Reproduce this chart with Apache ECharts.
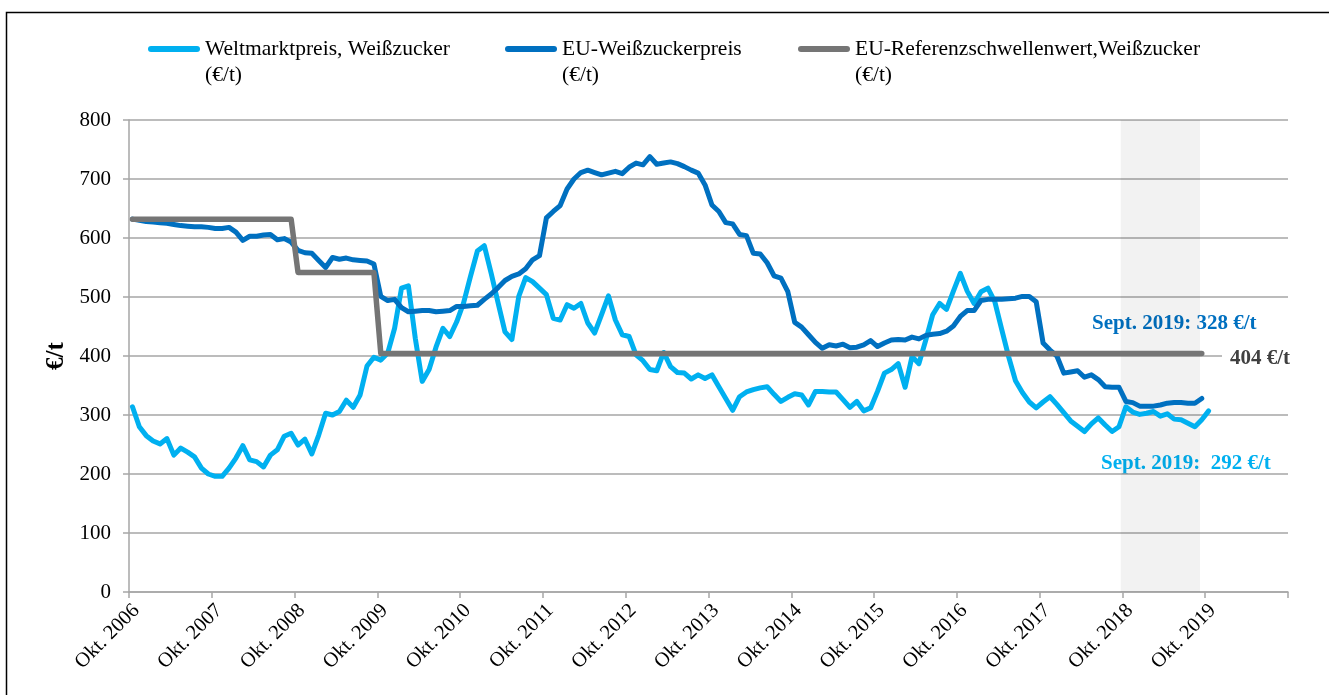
<!DOCTYPE html>
<html><head><meta charset="utf-8">
<script src="https://cdn.jsdelivr.net/npm/echarts@6/dist/echarts.min.js"></script>
<style>html,body{margin:0;padding:0;background:#fff;}#chart{width:1329px;height:695px;}</style>
</head><body><div id="chart"></div>
<script>
// X tick labels (one per October, every 12 months)
const xTickLabels = ['Okt. 2006','Okt. 2007','Okt. 2008','Okt. 2009','Okt. 2010','Okt. 2011','Okt. 2012',
  'Okt. 2013','Okt. 2014','Okt. 2015','Okt. 2016','Okt. 2017','Okt. 2018','Okt. 2019'];

const seriesNames = ['Weltmarktpreis, Weißzucker','EU-Weißzuckerpreis','EU-Referenzschwellenwert,Weißzucker'];

// Monthly values, starting Okt. 2006 (month index 0)
const worldPrice = [
  314,280,265,256,251,260,232,244,237,229,
  210,200,196,196,210,227,248,224,221,212,
  232,241,264,269,249,259,234,266,303,300,
  306,325,313,334,383,398,393,405,447,515,
  519,430,357,377,415,447,433,458,490,535,
  578,587,540,490,441,428,501,533,526,515,
  504,464,461,487,481,489,456,439,470,502,
  461,436,433,402,392,377,375,406,382,372,
  371,361,368,362,368,348,328,308,331,339,
  343,346,348,335,323,330,336,334,317,340,
  340,339,339,326,313,323,307,312,340,371,
  377,387,347,399,387,427,470,489,479,510,
  540,510,489,509,515,492,445,399,358,338,
  322,312,322,331,318,304,290,281,272,285,
  295,283,272,280,314,305,301,303,306,298,
  302,293,292,286,280,292,307
];
const euPrice = [
  632,630,628,627,626,625,623,621,620,619,
  619,618,616,616,618,610,596,603,603,605,
  606,597,599,593,579,575,574,562,550,567,
  564,566,563,562,561,556,501,494,496,482,
  475,476,477,477,475,476,477,484,484,485,
  486,496,505,516,528,535,539,548,563,570,
  634,645,655,683,700,711,715,711,707,710,
  713,709,720,727,724,738,725,727,729,726,
  721,715,710,690,656,645,626,624,606,604,
  574,573,558,536,532,509,457,449,436,423,
  413,419,417,420,414,415,419,426,416,422,
  427,428,427,432,429,435,437,438,442,451,
  467,477,477,494,496,496,496,497,498,501,
  501,492,422,410,400,371,373,375,364,368,
  360,348,347,347,323,321,315,315,315,317,
  320,321,321,320,320,328
];
// Reference threshold: breakpoints (month index) and values
const refMonths = [0, 23, 24, 35, 36, 155];
const refValues = [631.9, 631.9, 541.5, 541.5, 404.4, 404.4];

// Shaded period (Okt. 2018 – Sept. 2019), month positions
const shadeRange = [143.75, 155.25];

const annotations = ['Sept. 2019: 328 €/t', '404 €/t', 'Sept. 2019:  292 €/t'];

const colors = ['#00B0F0', '#0070C0', '#757575'];
const FONT = "'Liberation Serif','Times New Roman',serif";
const toPts = arr => arr.map((v, i) => [i + 0.5, v]);
const refPts = refMonths.map((m, k) => [m + 0.5, refValues[k]]);

const chart = echarts.init(document.getElementById('chart'), null, {renderer: 'canvas'});
const capsule = 'path://M3,0 L49,0 A3,3 0 0 1 49,6 L3,6 A3,3 0 0 1 3,0 Z';
const legendLeft = [148, 505, 798];

const lineSeries = (k, data, w) => ({
  name: seriesNames[k], type: 'line', data: data, showSymbol: false, symbol: 'none',
  color: colors[k], itemStyle: {color: colors[k]},
  lineStyle: {color: colors[k], width: w, cap: 'round', join: 'round'},
  animation: false, silent: true
});

const s0 = lineSeries(0, toPts(worldPrice), 5);
s0.markArea = {
  silent: true,
  itemStyle: {color: 'rgba(0,0,0,0.05)'},
  data: [[{xAxis: shadeRange[0], yAxis: 0}, {xAxis: shadeRange[1], yAxis: 800}]]
};

chart.setOption({
  backgroundColor: '#fff',
  animation: false,
  textStyle: {fontFamily: FONT},
  grid: {left: 129, right: 41, top: 120, bottom: 103, containLabel: false},
  legend: seriesNames.map((n, k) => ({
    data: [n], left: legendLeft[k], top: 10, padding: 0,
    icon: capsule, itemWidth: 52, itemHeight: 6, selectedMode: false,
    formatter: name => '\n' + name + '\n(€/t)',
    textStyle: {fontFamily: FONT, fontSize: 21.5, lineHeight: 26, color: '#000'}
  })),
  xAxis: {
    type: 'value', min: 0, max: 168, interval: 12,
    axisLine: {show: true, lineStyle: {color: '#a6a6a6', width: 1.5}},
    axisTick: {show: true, length: 6, lineStyle: {color: '#a6a6a6', width: 1.5}},
    splitLine: {show: false},
    axisLabel: {
      rotate: 45, margin: 8, fontFamily: FONT, fontSize: 20.5, color: '#000',
      verticalAlign: 'top',
      formatter: v => xTickLabels[Math.round(v / 12)] || ''
    }
  },
  yAxis: {
    type: 'value', min: 0, max: 800, interval: 100,
    name: '€/t', nameLocation: 'middle', nameGap: 58,
    nameTextStyle: {fontFamily: FONT, fontSize: 25, fontWeight: 'bold', color: '#000'},
    axisLine: {show: true, lineStyle: {color: '#a6a6a6', width: 1.5}},
    axisTick: {show: true, length: 6, lineStyle: {color: '#a6a6a6', width: 1.5}},
    splitLine: {show: true, lineStyle: {color: '#a6a6a6', width: 1.5}},
    axisLabel: {margin: 18, fontFamily: FONT, fontSize: 21, color: '#000'}
  },
  series: [
    s0,
    lineSeries(1, toPts(euPrice), 5),
    lineSeries(2, refPts, 5.5)
  ],
  graphic: [
    {type: 'polyline', silent: true, shape: {points: [[6.5, 695], [6.5, 12.5], [1329, 12.5]]},
      style: {stroke: '#000', lineWidth: 1.5, fill: null}},
    {type: 'text', left: 1092, top: 313, silent: true,
      style: {text: annotations[0], fill: '#0070C0', font: "bold 21px 'Liberation Serif', serif"}},
    {type: 'text', left: 1222, top: 346, silent: true, z: 100,
      style: {text: annotations[1], fill: '#404040', font: "bold 21px 'Liberation Serif', serif",
        backgroundColor: '#fff', padding: [2, 6, 2, 8]}},
    {type: 'text', left: 1101, top: 453, silent: true,
      style: {text: annotations[2], fill: '#00B0F0', font: "bold 21px 'Liberation Serif', serif"}}
  ]
});
</script></body></html>
